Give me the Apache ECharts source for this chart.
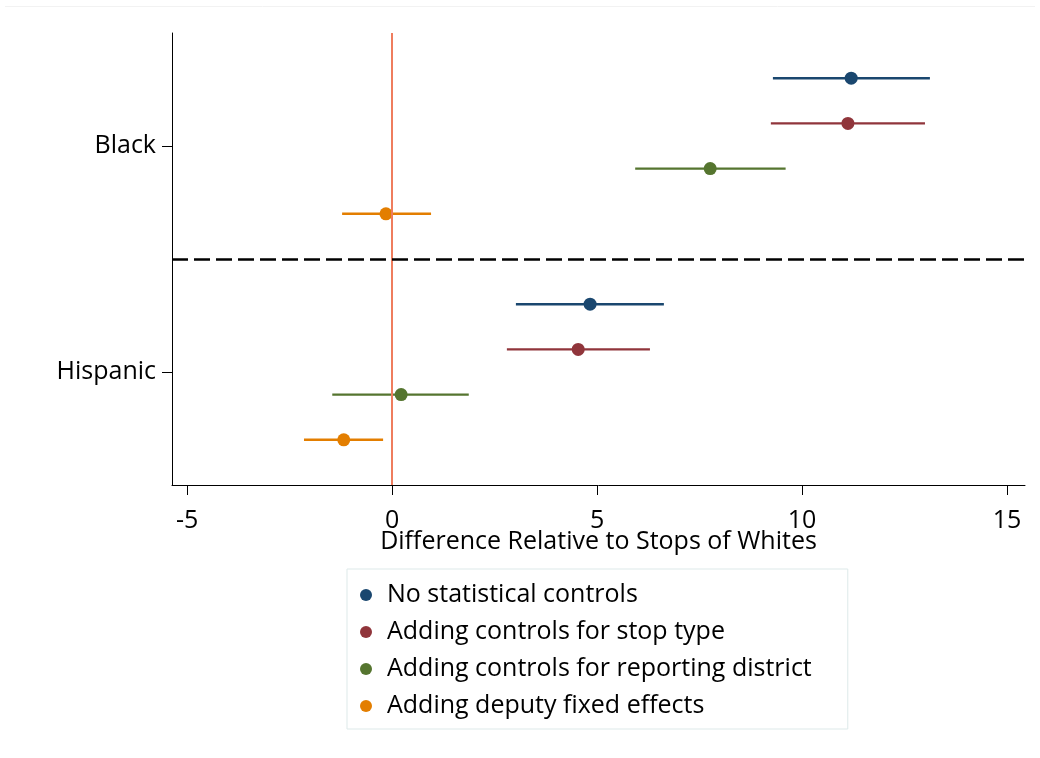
<!DOCTYPE html>
<html>
<head>
<meta charset="utf-8">
<title>Stop differences relative to whites</title>
<script src="https://cdn.jsdelivr.net/npm/echarts@6/dist/echarts.min.js"></script>
<style>
  html, body { margin: 0; padding: 0; background: #ffffff; }
  #chart { width: 1040px; height: 758px; }
</style>
</head>
<body>
<div id="chart"></div>
<script>
// Groups (top to bottom) and model specifications (top to bottom within a group)
const groups = ['Black', 'Hispanic'];
const models = [
  'No statistical controls',
  'Adding controls for stop type',
  'Adding controls for reporting district',
  'Adding deputy fixed effects'
];
const modelColors = ['#1a476f', '#90353b', '#55752f', '#e37e00'];

// Point estimates and 95% confidence bounds, one entry per model
const blackEst = [11.2, 11.12, 7.76, -0.15];
const blackLo  = [9.29, 9.24, 5.93, -1.22];
const blackHi  = [13.12, 13.0, 9.6, 0.95];
const hispEst  = [4.83, 4.54, 0.22, -1.18];
const hispLo   = [3.02, 2.8, -1.46, -2.15];
const hispHi   = [6.63, 6.29, 1.87, -0.22];

// Axis ticks
const xTicks = [-5, 0, 5, 10, 15];

const estByGroup = [blackEst, hispEst];
const loByGroup = [blackLo, hispLo];
const hiByGroup = [blackHi, hispHi];

// Vertical layout: each group gets one slot per model plus a spacer slot
const slot = models.length + 1;
const rowOf = (g, m) => (groups.length - g) * slot - 1 - m;
const groupCenter = g => (groups.length - g) * slot - 1 - (models.length - 1) / 2;
const yMax = groups.length * slot;
const groupTicks = groups.map((_, g) => groupCenter(g));
const dividers = [];
for (let g = 1; g < groups.length; g++) dividers.push(g * slot);

const font = 'Open Sans';
const fontSize = 25;
const series = [];

models.forEach((name, m) => {
  const ciData = groups.map((_, g) => [loByGroup[g][m], hiByGroup[g][m], rowOf(g, m)]);
  const ptData = groups.map((_, g) => [estByGroup[g][m], rowOf(g, m)]);
  // Confidence interval segments
  series.push({
    name: name,
    type: 'custom',
    z: 2,
    itemStyle: { color: modelColors[m] },
    renderItem: function (params, api) {
      const a = api.coord([api.value(0), api.value(2)]);
      const b = api.coord([api.value(1), api.value(2)]);
      return {
        type: 'line',
        shape: { x1: a[0], y1: a[1], x2: b[0], y2: b[1] },
        style: { stroke: modelColors[m], lineWidth: 2.4 }
      };
    },
    encode: { x: [0, 1], y: 2 },
    data: ciData,
    silent: true
  });
  // Point estimates
  series.push({
    name: name,
    type: 'scatter',
    z: 3,
    symbol: 'circle',
    symbolSize: 13,
    itemStyle: { color: modelColors[m], opacity: 1 },
    data: ptData,
    silent: true
  });
});

// Reference lines: zero effect and group divider
series.push({
  type: 'scatter',
  data: [],
  silent: true,
  markLine: {
    silent: true,
    symbol: 'none',
    label: { show: false },
    animation: false,
    data: [
      { xAxis: 0, lineStyle: { color: '#ef7d5e', width: 2, type: 'solid' } }
    ].concat(dividers.map(d => ({
      yAxis: d, lineStyle: { color: '#000000', width: 2.6, type: [16, 6] }
    })))
  },
  z: 1
});

const chart = echarts.init(document.getElementById('chart'), null, { renderer: 'canvas' });
chart.setOption({
  animation: false,
  backgroundColor: '#ffffff',
  textStyle: { fontFamily: font },
  grid: { left: 172, right: 15, top: 33, bottom: 273, containLabel: false },
  xAxis: {
    type: 'value',
    min: -5.37,
    max: 15.44,
    name: 'Difference Relative to Stops of Whites',
    nameLocation: 'middle',
    nameGap: 44,
    nameMoveOverlap: false,
    nameTextStyle: { fontFamily: font, fontSize: fontSize, color: '#000000' },
    axisLine: { show: true, onZero: false, lineStyle: { color: '#000000', width: 1 } },
    axisTick: { show: true, length: 10, customValues: xTicks, lineStyle: { color: '#000000', width: 1 } },
    axisLabel: { customValues: xTicks, margin: 23, fontFamily: font, fontSize: fontSize, color: '#000000' },
    splitLine: { show: false }
  },
  yAxis: {
    type: 'value',
    min: 0,
    max: yMax,
    axisLine: { show: true, onZero: false, lineStyle: { color: '#000000', width: 1 } },
    axisTick: { show: true, length: 10, customValues: groupTicks, lineStyle: { color: '#000000', width: 1 } },
    axisLabel: {
      customValues: groupTicks,
      margin: 16,
      fontFamily: font,
      fontSize: fontSize,
      color: '#000000',
      formatter: function (v) {
        const g = groupTicks.findIndex(t => Math.abs(t - v) < 1e-6);
        return g >= 0 ? groups[g] : '';
      }
    },
    splitLine: { show: false }
  },
  legend: {
    data: models,
    orient: 'vertical',
    left: 347,
    top: 569,
    padding: [11, 36, 8, 13],
    itemWidth: 12,
    itemHeight: 12,
    itemGap: 7,
    icon: 'circle',
    borderColor: '#dde9e9',
    borderWidth: 1,
    selectedMode: false,
    textStyle: { fontFamily: font, fontSize: fontSize, color: '#000000', lineHeight: 30, padding: [0, 0, 0, 10] }
  },
  graphic: [{
    type: 'line',
    shape: { x1: 5, y1: 6.5, x2: 1035, y2: 6.5 },
    style: { stroke: '#f2f2f2', lineWidth: 1 },
    silent: true
  }],
  series: series
});
</script>
</body>
</html>
